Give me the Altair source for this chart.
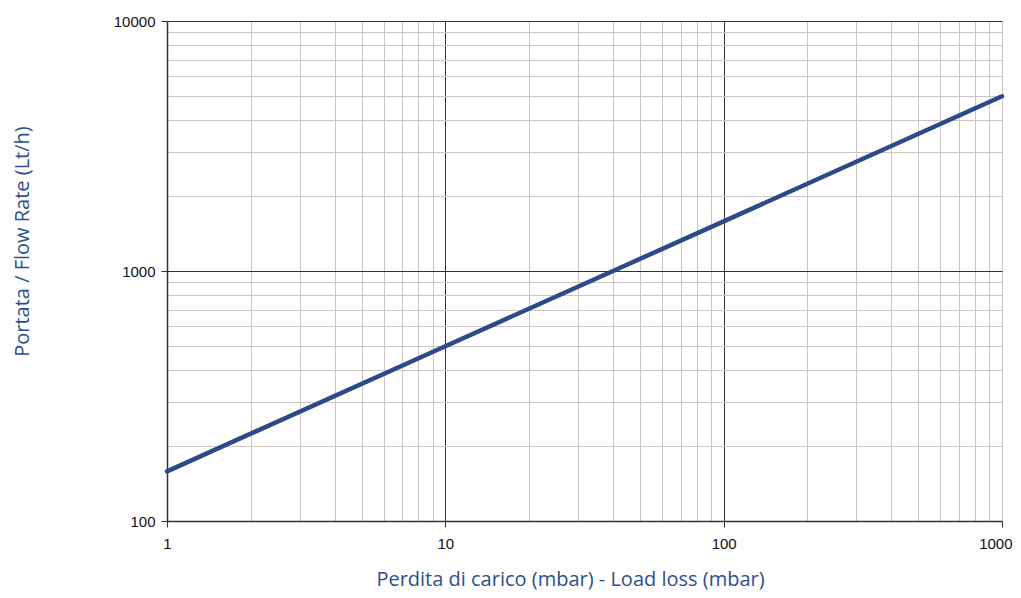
import altair as alt
import pandas as pd

# Data
pressure_loss = [1, 10, 100, 1000]          # mbar
flow_rate = [158, 500, 1580, 5000]          # Lt/h

x_ticks = [1, 2, 3, 4, 5, 6, 7, 8, 9,
           10, 20, 30, 40, 50, 60, 70, 80, 90,
           100, 200, 300, 400, 500, 600, 700, 800, 900, 1000]
y_ticks = [100, 200, 300, 400, 500, 600, 700, 800, 900,
           1000, 2000, 3000, 4000, 5000, 6000, 7000, 8000, 9000, 10000]
x_major = [1, 10, 100, 1000]
y_major = [100, 1000, 10000]
x_major_grid = [10, 100]
y_major_grid = [1000, 10000]

df = pd.DataFrame({"dp": pressure_loss, "q": flow_rate})

title_color = "#2c4f8e"
line_color = "#2b4a8a"
major_col = "#333333"
minor_col = "#cdc5c5"
font = "Open Sans"
tick_font = "Liberation Sans"


def in_list(vals):
    return "indexof([" + ",".join(str(v) for v in vals) + "], datum.value) >= 0"


x_axis = alt.Axis(
    values=x_ticks,
    format="d",
    labelExpr=f"{in_list(x_major)} ? datum.label : ''",
    title="Perdita di carico (mbar) - Load loss (mbar)",
    titleColor=title_color,
    titleFont=font,
    titleFontSize=20,
    titleFontWeight="normal",
    titleX=403,
    titleY=64,
    titleBaseline="alphabetic",
    titleAnchor="middle",
    labelFont=tick_font,
    labelFontSize=15,
    labelColor="#111111",
    labelPadding=9,
    labelFlush=False,
    labelAlign={"condition": {"test": "datum.value == 1000", "value": "right"}, "value": "center"},
    labelOffset={"condition": {"test": "datum.value == 1000", "value": 10}, "value": 0},
    tickSize=6,
    tickColor={"condition": {"test": in_list(x_major), "value": major_col}, "value": "transparent"},
    gridColor={"condition": {"test": in_list(x_major_grid), "value": major_col}, "value": minor_col},
    gridWidth=1,
    domainColor=major_col,
    domainWidth=1.5,
)

y_axis = alt.Axis(
    values=y_ticks,
    format="d",
    labelExpr=f"{in_list(y_major)} ? datum.label : ''",
    title="Portata / Flow Rate (Lt/h)",
    titleColor=title_color,
    titleFont=font,
    titleFontSize=20,
    titleFontWeight="normal",
    titleX=-145,
    titleY=220,
    titleBaseline="middle",
    titleAnchor="middle",
    titleAngle=270,
    labelFont=tick_font,
    labelFontSize=15,
    labelColor="#111111",
    labelPadding=6,
    labelFlush=False,
    tickSize=6,
    tickColor={"condition": {"test": in_list(y_major), "value": major_col}, "value": "transparent"},
    gridColor={"condition": {"test": in_list(y_major_grid), "value": major_col}, "value": minor_col},
    gridWidth=1,
    domainColor=major_col,
    domainWidth=1.5,
)

chart = alt.Chart(df).mark_line(color=line_color, strokeWidth=4.5, strokeCap="round").encode(
    x=alt.X("dp:Q", scale=alt.Scale(type="log", domain=[1, 1000], nice=False), axis=x_axis),
    y=alt.Y("q:Q", scale=alt.Scale(type="log", domain=[100, 10000], nice=False), axis=y_axis),
).properties(
    width=835,
    height=500,
    autosize=alt.AutoSizeParams(type="none"),
    padding={"left": 159, "top": 13, "right": 11, "bottom": 69},
    background="white",
).configure_view(stroke=None)

chart.save("out.html", embed_options={"renderer": "svg", "actions": False})
